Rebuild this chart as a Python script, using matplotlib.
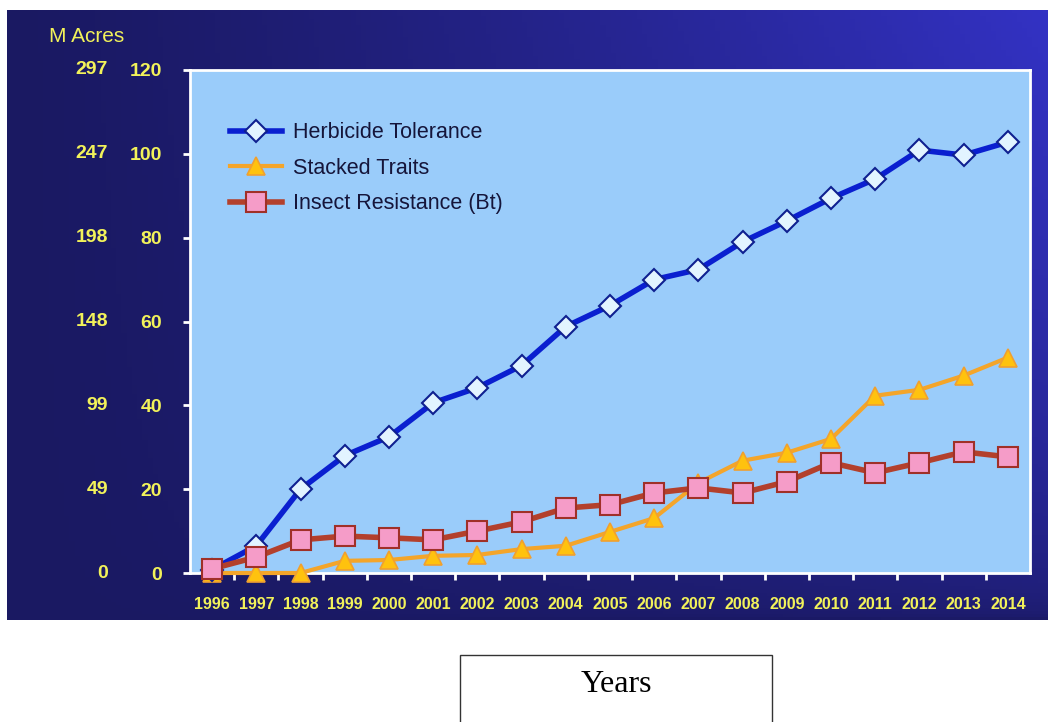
import numpy as np
import matplotlib
matplotlib.use("Agg")
from matplotlib import pyplot as plt
from matplotlib.patches import Rectangle

years = list(range(1996, 2015))
herbicide = [0.8, 6.5, 20, 28, 32.5, 40.6, 44.2, 49.5, 58.8, 63.8, 70, 72.4,
             79, 84, 89.4, 94, 100.9, 99.7, 102.8]
stacked = [0, 0, 0, 2.9, 3.1, 4.1, 4.3, 5.7, 6.5, 9.8, 13.1, 21.5,
           26.8, 28.7, 32, 42.3, 43.7, 47.1, 51.4]
insect = [1, 3.8, 7.9, 8.8, 8.4, 7.9, 10, 12.2, 15.5, 16.3, 19.1, 20.3,
          19.1, 21.8, 26.3, 23.9, 26.3, 28.9, 27.7]
yticks = [0, 20, 40, 60, 80, 100, 120]
acres = [0, 49, 99, 148, 198, 247, 297]

yellow = '#f2f25a'
plt.rcParams['font.family'] = ['Liberation Sans', 'DejaVu Sans']

fig = plt.figure(figsize=(10.52, 7.22), dpi=100)
fig.patch.set_facecolor('white')

# gradient panel behind the chart, brightest at top right
bg = fig.add_axes([7/1052, 1-620/722, 1041/1052, 610/722])
gx, gy = np.meshgrid(np.linspace(0, 1, 200), np.linspace(1, 0, 200))
g = np.clip(gx**1.3 * (0.05 + 0.95 * gy**0.5), 0, 1)
c0 = np.array([0x1a, 0x19, 0x62]) / 255
c1 = np.array([0x33, 0x32, 0xc4]) / 255
img = c0 + g[..., None] * (c1 - c0)
bg.imshow(img, aspect='auto', extent=[0, 1, 0, 1])
bg.axis('off')

ax = fig.add_axes([190/1052, 1-573/722, 840/1052, 503/722])
ax.set_facecolor('#9accfa')
ax.set_xlim(1995.5, 2014.5)
ax.set_ylim(0, 120)

ax.plot(years, herbicide, color='#0a1fd0', lw=4, marker='D', ms=11,
        mfc='#e2f4ff', mec='#0f2090', mew=1.5, label='Herbicide Tolerance',
        clip_on=False, zorder=5)
ax.plot(years, stacked, color='#f4a52a', lw=3, marker='^', ms=13,
        mfc='#ffc20e', mec='#f0a030', mew=1.2, label='Stacked Traits',
        clip_on=False, zorder=4)
ax.plot(years, insect, color='#b3402c', lw=4, marker='s', ms=14,
        mfc='#f59cc8', mec='#a03028', mew=1.5, label='Insect Resistance (Bt)',
        clip_on=False, zorder=6)

for s in ['left', 'bottom', 'right', 'top']:
    ax.spines[s].set_color('white')
    ax.spines[s].set_linewidth(2)

ax.set_yticks(yticks)
ax.set_yticklabels([str(v) for v in yticks], fontsize=14, fontweight='bold', color=yellow)
ax.tick_params(axis='y', colors='white', labelcolor=yellow, length=5, width=2, pad=15)
ax.set_xticks(years)
ax.set_xticklabels([str(y) for y in years], fontsize=11.5, fontweight='bold', color=yellow)
ax.tick_params(axis='x', length=0, pad=17, labelcolor=yellow)
ax.set_xticks(np.arange(1996.5, 2014, 1), minor=True)
ax.tick_params(axis='x', which='minor', colors='white', length=5, width=2)

for v, a in zip(yticks, acres):
    ax.text(-82/840, v, str(a), transform=ax.get_yaxis_transform(),
            ha='right', va='center', fontsize=14, fontweight='bold', color=yellow)
fig.text(49/1052, 1-36/722, 'M Acres', fontsize=15, color=yellow, va='center')

leg = ax.legend(loc='upper left', bbox_to_anchor=(0.025, 0.935), frameon=False,
                fontsize=15.5, handlelength=2.4, labelspacing=0.68, handletextpad=0.5)
for t in leg.get_texts():
    t.set_color('#15153a')

fig.patches.append(Rectangle((460/1052, -0.01), 312/1052, 1-655/722 + 0.01,
                             transform=fig.transFigure, fill=False,
                             edgecolor='#333333', lw=1))
fig.text(616/1052, 1-685/722, 'Years', fontsize=23, family='Liberation Serif',
         ha='center', va='center', color='black')

fig.savefig('out.png', dpi=100)
